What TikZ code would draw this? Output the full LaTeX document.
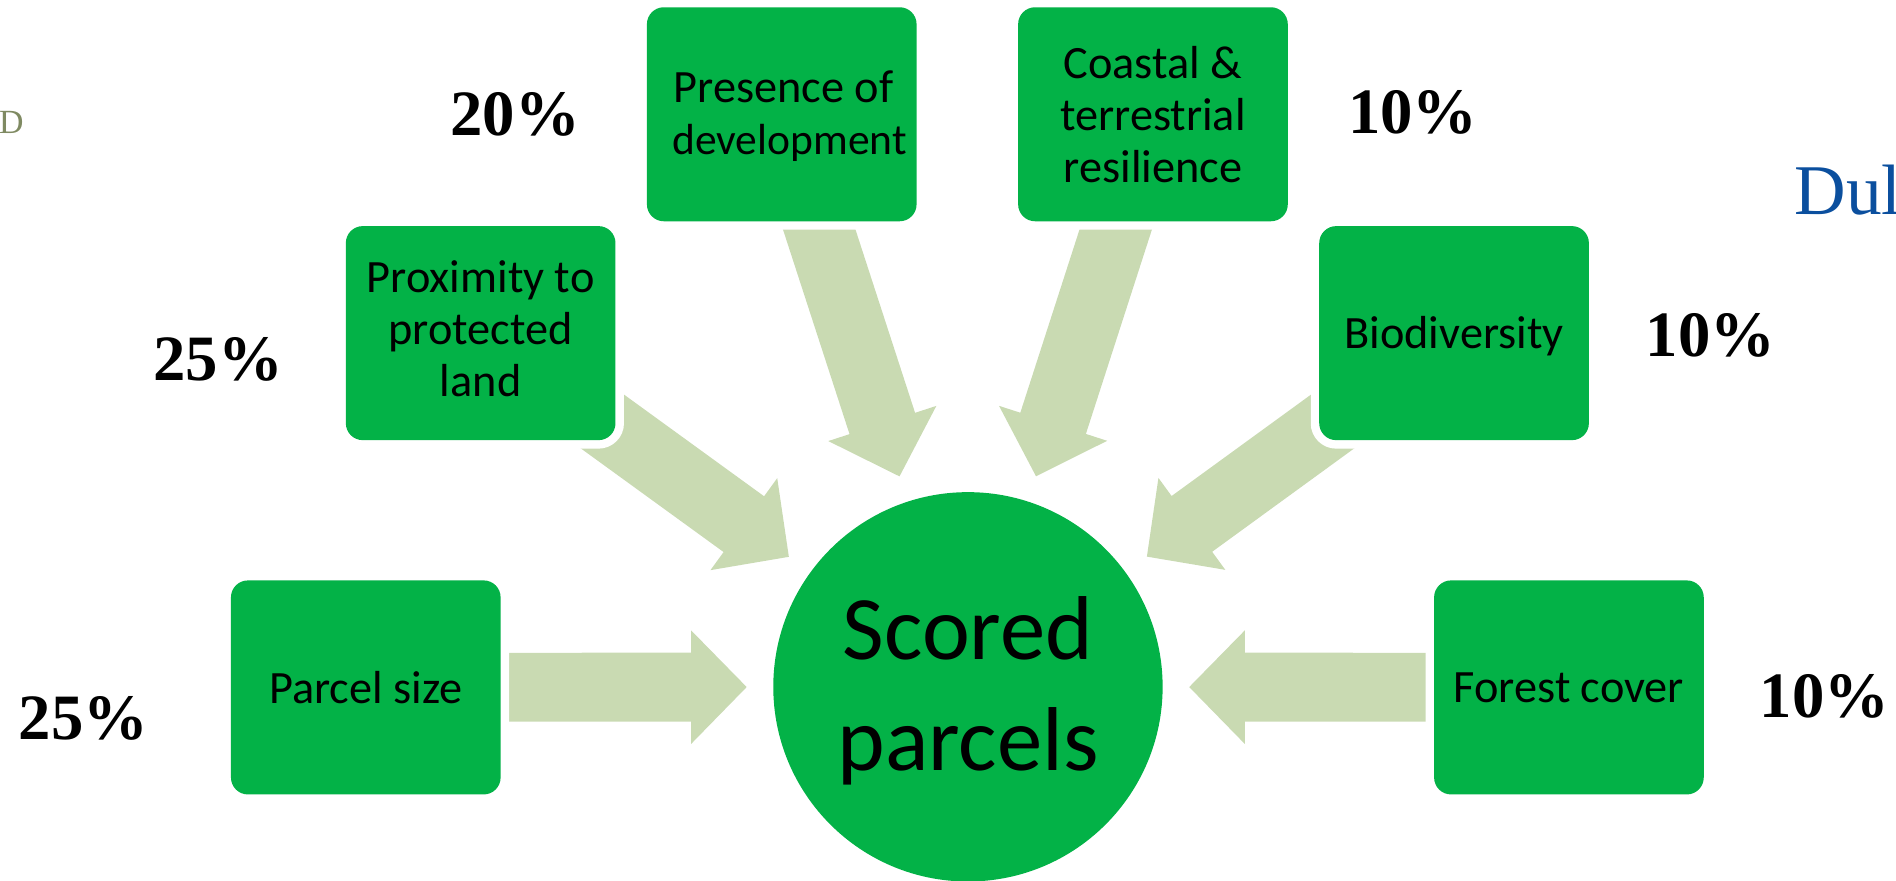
\documentclass[tikz,border=0pt]{standalone}
\usepackage{fontspec}
\setmainfont{Carlito}
\newfontfamily\pctfont{Liberation Serif}
\newfontfamily\logofont{Liberation Serif}
\usetikzlibrary{calc,backgrounds}
\definecolor{boxgreen}{HTML}{03B247}
\definecolor{arrowgreen}{HTML}{C9DAB2}
\definecolor{logoolive}{HTML}{7F8A62}
\definecolor{logoblue}{HTML}{0B4F9E}
\tikzset{
  factor/.style={rectangle,rounded corners=14pt,minimum width=223pt,minimum height=177pt,
    inner sep=0pt,outer sep=0pt,fill=boxgreen,preaction={draw=white,line width=14pt},
    text=black,align=center,font=\fontsize{38.3}{43}\selectfont},
  hubnode/.style={circle,minimum size=322pt,inner sep=0pt,outer sep=0pt,fill=boxgreen,
    text=black,align=center,font=\fontsize{75}{92}\selectfont},
  pct/.style={inner sep=0pt,font=\pctfont\bfseries\fontsize{53.5}{60}\selectfont},
  flowarrow/.style={fill=arrowgreen,draw=none},
}
% set lines of text, moved down by #1 pt without changing the node's size
\newcommand{\nudge}[2]{{%
  \setbox0=\hbox{\begin{tabular}{@{}c@{}}#2\end{tabular}}%
  \dimen0=\ht0 \dimen2=\dp0
  \setbox2=\hbox{\lower#1pt\box0}%
  \ht2=\dimen0 \dp2=\dimen2 \box2}}
\newcommand{\blockarrow}[1]{%
  \begin{scope}[on background layer]
  \fill[flowarrow] let \p1=($(hub)!183pt!(#1)$), \p2=(#1),
      \n1={atan2(\y1-\y2,\x1-\x2)}, \n2={veclen(\x1-\x2,\y1-\y2)}, \n3={\n2-46pt} in
    ([shift={(\p2)},rotate=\n1]0pt,28.5pt) --
    ([shift={(\p2)},rotate=\n1]\n3,28.5pt) --
    ([shift={(\p2)},rotate=\n1]\n3,47pt) --
    ([shift={(\p2)},rotate=\n1]\n2,0pt) --
    ([shift={(\p2)},rotate=\n1]\n3,-47pt) --
    ([shift={(\p2)},rotate=\n1]\n3,-28.5pt) --
    ([shift={(\p2)},rotate=\n1]0pt,-28.5pt) -- cycle;
  \end{scope}}
\begin{document}
\begin{tikzpicture}[x=1pt,y=-1pt]
  \useasboundingbox (0,0) rectangle (1568,727.8);
  \clip (0,0) rectangle (1568,727.8);
  \node[hubnode] (hub) at (800.5,568) {\nudge{5}{Scored\\parcels}};
  \node[factor] (size) at (302.5,568.5) {Parcel size};
  \node[factor] (prox) at (397.5,275.5) {\nudge{1}{Proximity to\\protected\\land}};
  \node[factor] (dev) at (646.5,94.5) {\nudge{3.5}{\hspace*{3pt}Presence of\\\hspace*{13pt}{\fontsize{36}{43}\selectfont development}}};
  \node[factor] (coast) at (953.5,94.5) {\nudge{4.5}{Coastal \&\\terrestrial\\resilience}};
  \node[factor] (bio) at (1202.5,275.5) {\nudge{4}{Biodiversity}};
  \node[factor] (forest) at (1297.5,568.5) {Forest cover};
  \blockarrow{size}
  \blockarrow{prox}
  \blockarrow{dev}
  \blockarrow{coast}
  \blockarrow{bio}
  \blockarrow{forest}
  \node[pct] (p1) at (426,95) {20\%};
  \node[pct] (p2) at (1168.5,93) {10\%};
  \node[pct] (p3) at (180.5,297) {25\%};
  \node[pct] (p4) at (1414.5,277) {10\%};
  \node[pct] (p5) at (69,594) {25\%};
  \node[pct] (p6) at (1509,576) {10\%};
  \node[anchor=base west,inner sep=0pt,text=logoolive,font=\logofont\fontsize{28}{30}\selectfont] (lg1) at (-1,110) {D};
  \node[anchor=base west,inner sep=0pt,text=logoblue,font=\logofont\fontsize{59}{66}\selectfont] (lg2) at (1484,177) {Dul};
\end{tikzpicture}
\end{document}
